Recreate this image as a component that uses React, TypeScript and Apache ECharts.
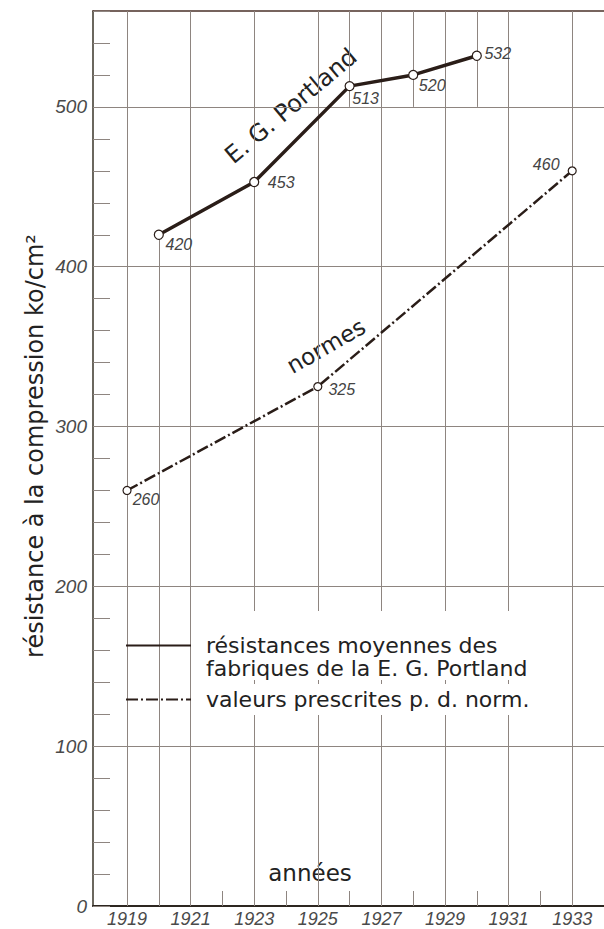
import React, { useEffect, useRef } from 'react';
import * as echarts from 'echarts';

// ---- data ----
const yearLabels = [1919, 1921, 1923, 1925, 1927, 1929, 1931, 1933];
const evenYears = [1920, 1922, 1924, 1926, 1928, 1930, 1932];
const topPartialYears = [1926, 1928, 1930];
const valueLines = [100, 200, 300, 400, 500];
const portlandYears = [1920, 1923, 1926, 1928, 1930];
const portlandValues = [420, 453, 513, 520, 532];
const normYears = [1919, 1925, 1933];
const normValues = [260, 325, 460];
const portlandName = 'résistances moyennes des\nfabriques de la E. G. Portland';
const normName = 'valeurs prescrites p. d. norm.';

// ---- styles ----
const portlandLabelOffsets = [[20, 10], [27, 0], [16, 12], [19, 11], [21, -2]];
const normLabelOffsets = [[19, 9], [24, 3], [-26, -6]];
const SANS = "'DejaVu Sans', 'Noto Sans', sans-serif";
const NUM = "'Liberation Sans', Arial, sans-serif";
const DARK = '#2a1d18';
const GRID = '#8e8580';
const X_MIN = 1917.93;
const X_MAX = 1934;
const Y_MIN = 0;
const Y_MAX = 560;

export default function App() {
  const ref = useRef<HTMLDivElement>(null);

  useEffect(() => {
    if (!ref.current) return;
    const chart = echarts.init(ref.current, null, { renderer: 'svg' });

    const valueLabel = {
      show: true,
      position: 'inside',
      formatter: (p: any) => String(p.value[1]),
      fontStyle: 'italic',
      fontSize: 16,
      fontFamily: NUM,
      color: '#444',
    };

    const gridMarkData: any[] = [
      ...yearLabels.map((y) => ({ xAxis: y })),
      ...valueLines.map((v) => ({ yAxis: v })),
      [
        { coord: [portlandYears[0], Y_MIN] },
        { coord: [portlandYears[0], portlandValues[0]] },
      ],
      ...topPartialYears.map((y) => [
        { coord: [y, valueLines[valueLines.length - 1]] },
        { coord: [y, Y_MAX] },
      ]),
    ];

    const legendText = {
      fontSize: 22,
      lineHeight: 23,
      fontFamily: SANS,
      color: '#222',
      backgroundColor: '#ffffff',
    };

    const option: any = {
      animation: false,
      backgroundColor: '#ffffff',
      grid: {
        left: 93,
        right: 0,
        top: 11,
        bottom: 23,
        containLabel: false,
        outerBoundsMode: 'none',
      },
      xAxis: [
        {
          type: 'value',
          min: X_MIN,
          max: X_MAX,
          position: 'bottom',
          axisLine: { show: true, onZero: false, lineStyle: { color: '#2d2620', width: 2 } },
          axisTick: {
            show: true,
            inside: true,
            length: 15,
            customValues: evenYears,
            lineStyle: { color: GRID, width: 1 },
          },
          axisLabel: {
            show: true,
            customValues: yearLabels,
            formatter: (v: number) => String(v),
            fontStyle: 'italic',
            fontSize: 18,
            lineHeight: 16,
            fontFamily: NUM,
            color: '#4a4a4a',
            margin: 5,
          },
          splitLine: { show: false },
        },
        {
          type: 'value',
          min: X_MIN,
          max: X_MAX,
          position: 'top',
          axisLine: { show: true, onZero: false, lineStyle: { color: '#4a3028', width: 1.5 } },
          axisTick: { show: false },
          axisLabel: { show: false },
          splitLine: { show: false },
        },
      ],
      yAxis: {
        type: 'value',
        min: Y_MIN,
        max: Y_MAX,
        interval: 20,
        axisLine: { show: true, onZero: false, lineStyle: { color: '#3a3528', width: 1.5 } },
        axisTick: { show: true, inside: true, length: 17, lineStyle: { color: GRID, width: 1 } },
        axisLabel: {
          formatter: (v: number) => (v % 100 === 0 ? String(v) : ''),
          fontStyle: 'italic',
          fontSize: 19,
          fontFamily: NUM,
          color: '#4a4a4a',
          margin: 6,
        },
        splitLine: { show: false },
      },
      legend: [
        {
          data: [{ name: portlandName, textStyle: { padding: [0, 4, 0, 10] } }],
          formatter: (name: string) => ' \n' + name,
          left: 125,
          top: 611,
          orient: 'vertical',
          itemWidth: 65,
          itemHeight: 14,
          padding: 0,
          selectedMode: false,
          itemStyle: { opacity: 0 },
          textStyle: legendText,
        },
        {
          data: [{ name: normName, textStyle: { padding: [4, 4, 4, 10] } }],
          left: 125,
          top: 684,
          orient: 'vertical',
          itemWidth: 65,
          itemHeight: 14,
          padding: 0,
          selectedMode: false,
          itemStyle: { opacity: 0 },
          textStyle: legendText,
        },
      ],
      series: [
        {
          type: 'line',
          name: normName,
          data: normYears.map((x, i) => ({
            value: [x, normValues[i]],
            label: { offset: normLabelOffsets[i] },
          })),
          symbol: 'circle',
          symbolSize: 8,
          itemStyle: { color: '#ffffff', borderColor: DARK, borderWidth: 1.2 },
          lineStyle: { color: DARK, width: 2.5, type: [12, 3, 2, 3], cap: 'butt' },
          label: valueLabel,
          z: 3,
          markLine: {
            silent: true,
            z: 1,
            symbol: ['none', 'none'],
            label: { show: false },
            lineStyle: { type: 'solid', color: GRID, width: 1 },
            emphasis: { disabled: true },
            data: gridMarkData,
          },
        },
        {
          type: 'line',
          name: portlandName,
          data: portlandYears.map((x, i) => ({
            value: [x, portlandValues[i]],
            label: { offset: portlandLabelOffsets[i] },
          })),
          symbol: 'circle',
          symbolSize: 9,
          itemStyle: { color: '#ffffff', borderColor: DARK, borderWidth: 1.2 },
          lineStyle: { color: DARK, width: 3.5 },
          label: valueLabel,
          z: 4,
        },
      ],
      graphic: [
        {
          type: 'text',
          x: 35,
          y: 446,
          rotation: Math.PI / 2,
          style: {
            text: 'résistance à la compression ko/cm²',
            textAlign: 'center',
            textVerticalAlign: 'middle',
            align: 'center',
            verticalAlign: 'middle',
            font: `24px ${SANS}`,
            fill: '#222',
          },
        },
        {
          type: 'text',
          x: 310,
          y: 873,
          style: {
            text: 'années',
            textAlign: 'center',
            textVerticalAlign: 'middle',
            align: 'center',
            verticalAlign: 'middle',
            font: `23px ${SANS}`,
            fill: '#222',
          },
        },
        {
          type: 'text',
          x: 291,
          y: 106,
          rotation: 0.7,
          style: {
            text: 'E. G. Portland',
            textAlign: 'center',
            textVerticalAlign: 'middle',
            align: 'center',
            verticalAlign: 'middle',
            font: `24px ${SANS}`,
            fill: '#222',
          },
        },
        {
          type: 'text',
          x: 326,
          y: 346,
          rotation: 0.52,
          style: {
            text: 'normes',
            textAlign: 'center',
            textVerticalAlign: 'middle',
            align: 'center',
            verticalAlign: 'middle',
            font: `23px ${SANS}`,
            fill: '#222',
          },
        },
      ],
    };

    chart.setOption(option);
    return () => chart.dispose();
  }, []);

  return (
    <div
      ref={ref}
      style={{
        position: 'fixed',
        left: 0,
        top: 0,
        width: 604,
        height: 929,
        background: '#ffffff',
      }}
    />
  );
}
